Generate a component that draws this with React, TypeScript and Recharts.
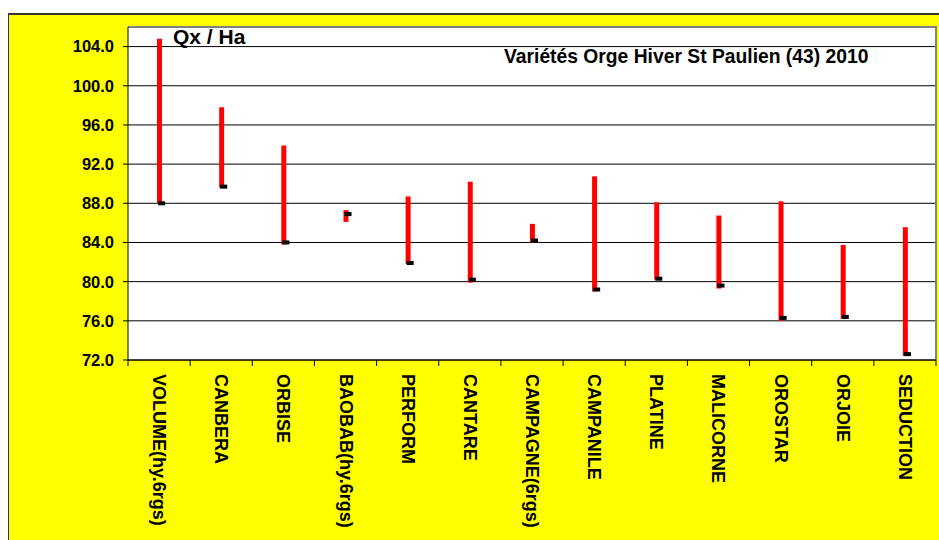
import { ComposedChart, Bar, Scatter, XAxis, YAxis, CartesianGrid } from "recharts";

const varieties = [
  "VOLUME(hy.6rgs)", "CANBERA", "ORBISE", "BAOBAB(hy.6rgs)", "PERFORM", "CANTARE",
  "CAMPAGNE(6rgs)", "CAMPANILE", "PLATINE", "MALICORNE", "OROSTAR", "ORJOIE", "SEDUCTION",
];
const highs = [104.8, 97.8, 93.9, 87.3, 88.7, 90.2, 85.9, 90.75, 88.1, 86.75, 88.2, 83.75, 85.55];
const lows = [88.0, 89.6, 83.8, 86.1, 81.8, 79.9, 84.0, 79.0, 80.2, 79.3, 76.0, 76.2, 72.4];
const closes = [88.0, 89.7, 84.0, 86.9, 81.9, 80.2, 84.2, 79.2, 80.3, 79.6, 76.3, 76.4, 72.6];
const yTicks = [72, 76, 80, 84, 88, 92, 96, 100, 104];

const FONT = "'Liberation Sans', Arial, sans-serif";
const CHART_W = 930;
const CHART_H = 525;
const MARGIN = { top: 12, right: 3, bottom: 0, left: 0 };
const Y_AXIS_W = 119;
const X_AXIS_H = 180;
const PLOT_X = MARGIN.left + Y_AXIS_W;
const PLOT_W = CHART_W - MARGIN.left - MARGIN.right - Y_AXIS_W;
const PLOT_H = CHART_H - MARGIN.top - MARGIN.bottom - X_AXIS_H;

const rows = varieties.map((name, i) => ({
  name,
  range: [lows[i], highs[i]],
  close: closes[i],
}));

/** Rotated category label plus a tick mark at the band boundary (Excel style). */
function CategoryTick(props: any) {
  const { x, y, payload, index } = props;
  const half = PLOT_W / varieties.length / 2;
  const axisY = y - 14;
  return (
    <g>
      <line x1={x - half} x2={x - half} y1={axisY} y2={axisY + 6} stroke="#000" />
      {index === varieties.length - 1 && (
        <line x1={x + half} x2={x + half} y1={axisY} y2={axisY + 6} stroke="#000" />
      )}
      <text
        x={x}
        y={y}
        transform={`rotate(90, ${x}, ${y})`}
        textAnchor="start"
        dominantBaseline="central"
        fontFamily={FONT}
        fontWeight="bold"
        fontSize={18}
        fill="#000"
      >
        {payload.value}
      </text>
    </g>
  );
}

// close marker: small black tick to the right of the high-low line
function CloseMark(props: any) {
  const { cx, cy } = props;
  return <rect x={cx - 1} y={cy - 2} width={7} height={4} fill="#000" />;
}

export default function App() {
  return (
    <div
      style={{
        position: "absolute",
        left: 8,
        top: 13,
        width: CHART_W,
        height: CHART_H,
        background: "#ffff00",
        borderTop: "2px solid #333",
        borderLeft: "1px solid #333",
      }}
    >
      <ComposedChart width={CHART_W} height={CHART_H} data={rows} margin={MARGIN}>
        <CartesianGrid vertical={false} stroke="#000" fill="#fff" />
        <XAxis
          dataKey="name"
          interval={0}
          height={X_AXIS_H}
          tickLine={false}
          tickSize={6}
          tickMargin={8}
          axisLine={{ stroke: "#000" }}
          tick={<CategoryTick />}
        />
        <YAxis
          domain={[72, 106]}
          ticks={yTicks}
          width={Y_AXIS_W}
          tickSize={5}
          tickMargin={9}
          tickLine={{ stroke: "#000" }}
          axisLine={{ stroke: "#000" }}
          tickFormatter={(v: number) => v.toFixed(1)}
          tick={{ fontFamily: FONT, fontWeight: "bold", fontSize: 16.5, fill: "#000" }}
          allowDataOverflow
        />
        <Bar dataKey="range" barSize={5} fill="#ff0000" isAnimationActive={false} />
        <Scatter dataKey="close" shape={<CloseMark />} isAnimationActive={false} />
        {/* grey frame on top and right of the plot area */}
        <path
          d={`M${PLOT_X},${MARGIN.top} H${PLOT_X + PLOT_W} V${MARGIN.top + PLOT_H}`}
          fill="none"
          stroke="#808080"
          strokeWidth={2}
        />
        <text x={164} y={29} fontFamily={FONT} fontWeight="bold" fontSize={21} fill="#000">
          Qx / Ha
        </text>
        <text x={495} y={47.5} fontFamily={FONT} fontWeight="bold" fontSize={19.3} fill="#000">
          Variétés Orge Hiver St Paulien (43) 2010
        </text>
      </ComposedChart>
    </div>
  );
}
